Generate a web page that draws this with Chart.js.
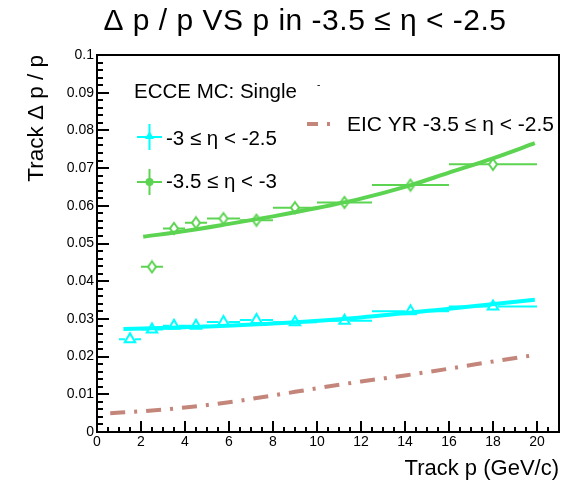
<!DOCTYPE html>
<html>
<head>
<meta charset="utf-8">
<script src="https://cdn.jsdelivr.net/npm/chart.js@4.4.0/dist/chart.umd.min.js"></script>
<style>
  html, body { margin: 0; padding: 0; background: #fff; }
  #wrap { width: 573px; height: 482px; }
</style>
</head>
<body>
<div id="wrap"><canvas id="c" width="573" height="482"></canvas></div>
<script>
// momentum bins (GeV/c)
const pCenter = [1.5, 2.5, 3.5, 4.5, 5.75, 7.25, 9, 11.25, 14.25, 18];
const pLow    = [1, 2, 3, 4, 5, 6.5, 8, 10, 12.5, 16];
const pHigh   = [2, 3, 4, 5, 6.5, 8, 10, 12.5, 16, 20];

// dp/p per bin
const resEta3   = [0.0246, 0.0272, 0.0282, 0.0282, 0.0292, 0.0297, 0.0291, 0.0295, 0.0320, 0.0333]; // -3 <= eta < -2.5
const resEta35  = [null, 0.0438, 0.0540, 0.0555, 0.0566, 0.0562, 0.0595, 0.0609, 0.0655, 0.0710]; // -3.5 <= eta < -3

// fit curves
const fitEta3P   = [1.2, 4, 8, 12, 16, 19.9];
const fitEta3R   = [0.0273, 0.0278, 0.0288, 0.0304, 0.0327, 0.0351];
const fitEta35P  = [2.1, 4, 6, 8, 10, 12, 14, 16, 18, 19.9];
const fitEta35R  = [0.0518, 0.0533, 0.0552, 0.0572, 0.0594, 0.0619, 0.0650, 0.0688, 0.0726, 0.0766];

// EIC yellow report requirement
const yrP = [0.6, 2, 4, 6, 8, 10, 12, 14, 16, 18, 20];
const yrR = [0.0050, 0.0055, 0.0065, 0.0079, 0.0097, 0.0116, 0.0134, 0.0150, 0.0168, 0.0187, 0.0205];

const xTicks = [0, 2, 4, 6, 8, 10, 12, 14, 16, 18, 20];
const yTicks = [0, 0.01, 0.02, 0.03, 0.04, 0.05, 0.06, 0.07, 0.08, 0.09, 0.1];

const CYAN = '#00ffff';
const GREEN = '#5cd452';
const BROWN = '#c4867a';
const FONT = '"Liberation Sans", Arial, Helvetica, sans-serif';

const pts = (xs, ys) => xs.map((x, i) => ({x: x, y: ys[i]})).filter(p => p.y !== null);

// open diamond marker (ROOT style, taller than wide)
function diamond(w, h, color) {
  const c = document.createElement('canvas');
  c.width = w + 4; c.height = h + 4;
  const g = c.getContext('2d');
  const cx = c.width / 2, cy = c.height / 2;
  g.strokeStyle = color; g.lineWidth = 2;
  g.beginPath();
  g.moveTo(cx, cy - h / 2); g.lineTo(cx + w / 2, cy);
  g.lineTo(cx, cy + h / 2); g.lineTo(cx - w / 2, cy);
  g.closePath(); g.stroke();
  return c;
}

// horizontal bin-width bars
const errorBars = {
  id: 'errorBars',
  beforeDatasetsDraw(chart) {
    const {ctx, scales: {x, y}} = chart;
    ctx.save();
    ctx.lineWidth = 2;
    [[resEta3, CYAN, 5], [resEta35, GREEN, 4]].forEach(([vals, col, gap]) => {
      ctx.strokeStyle = col;
      vals.forEach((v, i) => {
        if (v === null) return;
        const py = y.getPixelForValue(v);
        const pc = x.getPixelForValue(pCenter[i]);
        ctx.beginPath();
        ctx.moveTo(x.getPixelForValue(pLow[i]), py); ctx.lineTo(pc - gap, py);
        ctx.moveTo(pc + gap, py); ctx.lineTo(x.getPixelForValue(pHigh[i]), py);
        ctx.stroke();
      });
    });
    ctx.restore();
  }
};

// ROOT-like frame with inward ticks
const frame = {
  id: 'frame',
  afterDatasetsDraw(chart) {
    const {ctx, chartArea: a, scales: {x, y}} = chart;
    ctx.save();
    ctx.strokeStyle = '#000';
    ctx.lineWidth = 2;
    ctx.beginPath();
    for (let k = 0; k <= 42; k++) {
      const px = Math.round(x.getPixelForValue(k * 0.5));
      const len = k % 4 === 0 ? 11 : 5;
      ctx.moveTo(px, a.bottom); ctx.lineTo(px, a.bottom - len);
    }
    for (let k = 0; k <= 50; k++) {
      const py = Math.round(y.getPixelForValue(k * 0.002));
      const len = k % 5 === 0 ? 12 : 6;
      ctx.moveTo(a.left, py); ctx.lineTo(a.left + len, py);
    }
    ctx.stroke();
    ctx.strokeRect(a.left, a.top, a.right - a.left, a.bottom - a.top);
    ctx.restore();
  }
};

// title + legend text
const labels = {
  id: 'labels',
  afterDraw(chart) {
    const ctx = chart.ctx;
    ctx.save();
    ctx.fillStyle = '#000';
    ctx.textBaseline = 'middle';
    ctx.textAlign = 'center';
    ctx.font = '30px ' + FONT;
    ctx.letterSpacing = '0.5px';
    ctx.fillText('\u0394 p / p VS p in -3.5 \u2264 \u03b7 < -2.5', 305, 22);
    ctx.letterSpacing = '0px';

    ctx.textAlign = 'left';
    ctx.font = '20.5px ' + FONT;
    ctx.fillText('ECCE MC: Single', 134, 92);
    ctx.font = '10px ' + FONT;
    ctx.fillText('-', 317, 85);

    // data entries
    ctx.lineWidth = 2;
    ctx.strokeStyle = CYAN; ctx.fillStyle = CYAN;
    ctx.beginPath();
    ctx.moveTo(137, 137); ctx.lineTo(162, 137);
    ctx.moveTo(149.5, 124); ctx.lineTo(149.5, 150);
    ctx.stroke();
    ctx.beginPath();
    ctx.moveTo(149.5, 131); ctx.lineTo(154, 139); ctx.lineTo(145, 139); ctx.closePath();
    ctx.fill();

    ctx.strokeStyle = GREEN; ctx.fillStyle = GREEN;
    ctx.beginPath();
    ctx.moveTo(137, 182); ctx.lineTo(162, 182);
    ctx.moveTo(149.5, 169); ctx.lineTo(149.5, 195);
    ctx.stroke();
    ctx.beginPath();
    ctx.arc(149.5, 182, 4, 0, Math.PI * 2);
    ctx.fill();

    ctx.fillStyle = '#000';
    ctx.font = '20.5px ' + FONT;
    ctx.fillText('-3 \u2264 \u03b7 < -2.5', 166, 139);
    ctx.fillText('-3.5 \u2264 \u03b7 < -3', 166, 182);

    // YR entry
    ctx.strokeStyle = BROWN;
    ctx.lineWidth = 4;
    ctx.setLineDash([11, 9, 3, 9]);
    ctx.beginPath();
    ctx.moveTo(307, 124); ctx.lineTo(334, 124);
    ctx.stroke();
    ctx.setLineDash([]);
    ctx.font = '21px ' + FONT;
    ctx.fillText('EIC YR -3.5 \u2264 \u03b7 < -2.5', 347, 125);
    ctx.restore();
  }
};

new Chart(document.getElementById('c'), {
  type: 'scatter',
  data: {
    datasets: [
      {
        label: '-3 \u2264 \u03b7 < -2.5',
        data: pts(pCenter, resEta3),
        pointStyle: 'triangle',
        pointRadius: 6,
        pointBorderWidth: 2,
        pointBorderColor: CYAN,
        pointBackgroundColor: 'rgba(0,0,0,0)',
        showLine: false
      },
      {
        label: '-3.5 \u2264 \u03b7 < -3',
        data: pts(pCenter, resEta35),
        pointStyle: diamond(8, 11, GREEN),
        pointRadius: 6,
        showLine: false
      },
      {
        label: 'fit eta3',
        data: pts(fitEta3P, fitEta3R),
        showLine: true,
        borderColor: CYAN,
        borderWidth: 4,
        cubicInterpolationMode: 'monotone',
        pointRadius: 0
      },
      {
        label: 'fit eta35',
        data: pts(fitEta35P, fitEta35R),
        showLine: true,
        borderColor: GREEN,
        borderWidth: 4,
        cubicInterpolationMode: 'monotone',
        pointRadius: 0
      },
      {
        label: 'EIC YR -3.5 \u2264 \u03b7 < -2.5',
        data: pts(yrP, yrR),
        showLine: true,
        borderColor: BROWN,
        borderWidth: 4,
        borderDash: [15, 9, 3, 9],
        cubicInterpolationMode: 'monotone',
        pointRadius: 0
      }
    ]
  },
  options: {
    responsive: false,
    animation: false,
    devicePixelRatio: 1,
    layout: { padding: { top: 55, right: 14, bottom: 0, left: 0 } },
    plugins: {
      legend: { display: false },
      tooltip: { enabled: false },
      title: { display: false }
    },
    scales: {
      x: {
        type: 'linear',
        min: 0,
        max: 21,
        afterBuildTicks: s => { s.ticks = xTicks.map(v => ({value: v})); },
        afterFit: s => { s.height = 50; },
        grid: { display: false, drawTicks: false },
        border: { display: false },
        ticks: {
          padding: 2,
          autoSkip: false,
          maxRotation: 0,
          color: '#000',
          font: { family: FONT, size: 14 },
          callback: v => String(v)
        },
        title: {
          display: true,
          text: 'Track p (GeV/c)',
          align: 'end',
          color: '#000',
          font: { family: FONT, size: 22 },
          padding: { top: 0, bottom: 0 }
        }
      },
      y: {
        type: 'linear',
        min: 0,
        max: 0.1,
        afterBuildTicks: s => { s.ticks = yTicks.map(v => ({value: v})); },
        afterFit: s => { s.width = 97; },
        grid: { display: false, drawTicks: false },
        border: { display: false },
        ticks: {
          padding: 3,
          autoSkip: false,
          color: '#000',
          font: { family: FONT, size: 14 },
          callback: v => String(+v.toFixed(3))
        },
        title: {
          display: true,
          text: 'Track \u0394 p / p',
          align: 'end',
          color: '#000',
          font: { family: FONT, size: 22.5 },
          padding: { top: 23, bottom: 0 }
        }
      }
    }
  },
  plugins: [errorBars, frame, labels]
});
</script>
</body>
</html>
